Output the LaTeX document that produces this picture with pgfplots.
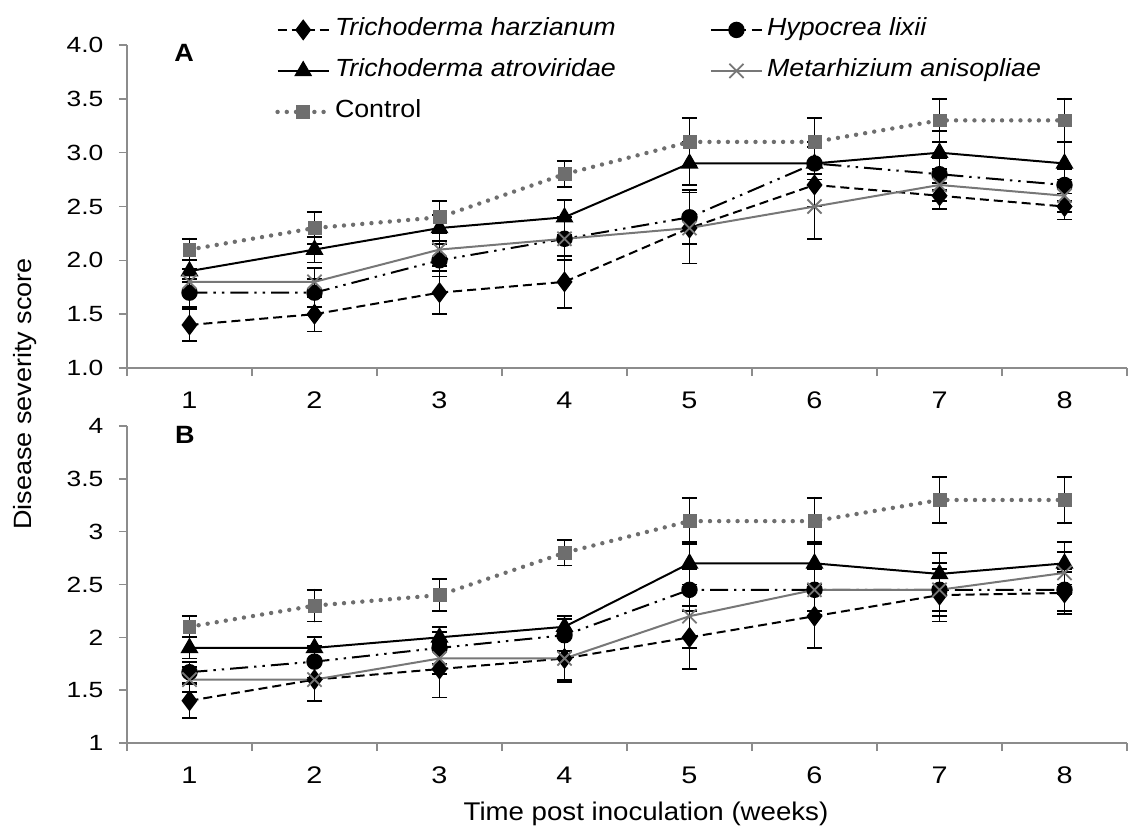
\documentclass[border=0pt]{standalone}
\usepackage{fontspec}
\setmainfont{Liberation Sans}[FakeStretch=1.08]
\newfontfamily\tickfont{Liberation Sans}[FakeStretch=1.2]
\usepackage{pgfplots}
\usepackage{pgfplotstable}
\pgfplotsset{compat=1.18}

\definecolor{axgray}{HTML}{8C8C8C}
\definecolor{ctrlgray}{HTML}{6E6E6E}
\definecolor{metgray}{HTML}{777777}

% x, then value and error for each treatment
\pgfplotstableread{
x h he l le a ae m me c ce
1 1.4 0.15 1.7 0.13 1.9 0.10 1.8 0.12 2.1 0.10
2 1.5 0.16 1.7 0.13 2.1 0.12 1.8 0.13 2.3 0.15
3 1.7 0.20 2.0 0.15 2.3 0.12 2.1 0.15 2.4 0.15
4 1.8 0.24 2.2 0.20 2.4 0.16 2.2 0.20 2.8 0.12
5 2.3 0.33 2.4 0.25 2.9 0.20 2.3 0.33 3.1 0.22
6 2.7 0.20 2.9 0.15 2.9 0.20 2.5 0.30 3.1 0.22
7 2.6 0.12 2.8 0.15 3.0 0.20 2.7 0.15 3.3 0.20
8 2.5 0.12 2.7 0.15 2.9 0.20 2.6 0.15 3.3 0.20
}\dataA

\pgfplotstableread{
x h he l le a ae m me c ce
1 1.40 0.16 1.67 0.10 1.9 0.10 1.60 0.12 2.1 0.10
2 1.60 0.20 1.77 0.15 1.9 0.10 1.60 0.20 2.3 0.15
3 1.70 0.27 1.90 0.15 2.0 0.10 1.80 0.15 2.4 0.15
4 1.80 0.22 2.02 0.15 2.1 0.10 1.80 0.20 2.8 0.12
5 2.00 0.30 2.45 0.20 2.7 0.20 2.20 0.30 3.1 0.22
6 2.20 0.30 2.45 0.20 2.7 0.20 2.45 0.20 3.1 0.22
7 2.40 0.25 2.45 0.20 2.6 0.20 2.45 0.25 3.3 0.22
8 2.42 0.20 2.45 0.20 2.7 0.20 2.61 0.20 3.3 0.22
}\dataB

\pgfplotsset{
  panel/.style={
    scale only axis, width=500pt,
    xmin=0.5, xmax=8.5, ymin=1, ymax=4,
    axis x line*=bottom, axis y line*=left,
    axis line style={axgray, line width=0.8pt},
    tick style={axgray, line width=0.8pt},
    tick align=outside,
    major tick length=0pt, minor tick length=4pt,
    xtick={1,...,8},
    minor xtick={0.5,1.5,2.5,3.5,4.5,5.5,6.5,7.5,8.5},
    ytick={1,1.5,...,4}, minor ytick={1,1.5,...,4},
    /pgf/number format/assume math mode=true,
    xticklabel style={font=\tickfont\fontsize{12}{14}\selectfont, yshift=-8.5pt},
    yticklabel style={font=\tickfont\fontsize{11}{13}\selectfont, xshift=-8.3pt},
    clip=false,
  },
  errs/.style={
    error bars/.cd, y dir=both, y explicit,
    error bar style={black, solid, line width=0.9pt},
    error mark options={rotate=90, mark size=3.8pt, black, solid, line width=0.9pt},
  },
  sH/.style={black, line width=1pt, dash pattern=on 4.5pt off 2.5pt,
    mark=diamond*, mark size=4.5pt, mark options={solid, fill=black}},
  sL/.style={black, line width=1pt, dash pattern=on 9pt off 3pt on 1.2pt off 3pt on 1.2pt off 3pt,
    mark=*, mark size=3.6pt, mark options={solid, fill=black}},
  sA/.style={black, line width=1pt, solid,
    mark=triangle*, mark size=4.2pt, mark options={solid, fill=black}},
  sM/.style={metgray, line width=1pt, solid,
    mark=x, mark size=5pt, mark options={solid, metgray, line width=0.9pt}},
  sC/.style={ctrlgray, line width=2.2pt, line cap=round, dash pattern=on 0pt off 4.6pt,
    mark=square*, mark size=3.2pt, mark options={solid, fill=ctrlgray, draw=ctrlgray, line width=0.4pt}},
}

\begin{document}
\begin{tikzpicture}
\begin{axis}[panel, name=A, height=161.5pt,
  yticklabel style={/pgf/number format/.cd, fixed, fixed zerofill, precision=1},
  legend columns=2,
  legend cell align=left,
  legend image code/.code={\draw[mark repeat=2, mark phase=2] plot coordinates {(0cm,0cm) (0.45cm,0cm) (0.9cm,0cm)};},
  legend style={at={(rel axis cs:0.148,1.1114)}, anchor=north west, draw=none, fill=none,
    inner sep=0pt, font=\fontsize{12.4}{14}\selectfont, row sep=0pt,
    /tikz/every even column/.append style={column sep=45pt},
    nodes={inner ysep=4.25pt, text height=9pt, text depth=3pt}},
]
\addplot[sH, errs] table[x=x, y=h, y error=he] {\dataA};
\addlegendentry{\textit{Trichoderma harzianum}}
\addplot[sL, errs] table[x=x, y=l, y error=le] {\dataA};
\addlegendentry{\textit{Hypocrea lixii}}
\addplot[sA, errs] table[x=x, y=a, y error=ae] {\dataA};
\addlegendentry{\textit{Trichoderma atroviridae}}
\addplot[sM, errs] table[x=x, y=m, y error=me] {\dataA};
\addlegendentry{\textit{Metarhizium anisopliae}}
\addplot[sC, errs] table[x=x, y=c, y error=ce] {\dataA};
\addlegendentry{Control}
\node[font=\fontsize{12.5}{14}\selectfont\bfseries] at (rel axis cs:0.057,0.975) {A};
\end{axis}

\begin{axis}[panel, name=B, height=158.5pt,
  at={(A.south west)}, anchor=north west, yshift=-29pt,
  xlabel={Time post inoculation (weeks)},
  xlabel style={font=\fontsize{12.8}{15}\selectfont, at={(axis description cs:0.519,0)}, anchor=center, yshift=-35.5pt},
]
\addplot[sH, errs] table[x=x, y=h, y error=he] {\dataB};
\addplot[sL, errs] table[x=x, y=l, y error=le] {\dataB};
\addplot[sA, errs] table[x=x, y=a, y error=ae] {\dataB};
\addplot[sM, errs] table[x=x, y=m, y error=me] {\dataB};
\addplot[sC, errs] table[x=x, y=c, y error=ce] {\dataB};
\node[font=\fontsize{12.5}{14}\selectfont\bfseries] at (rel axis cs:0.058,0.972) {B};
\node[rotate=90, font=\fontsize{12.5}{14}\selectfont] at (rel axis cs:-0.102,1.101) {Disease severity score};
\end{axis}

\pgfresetboundingbox
\path[use as bounding box] ([xshift=-63.5pt, yshift=-229.5pt]A.south west) rectangle ([xshift=506.5pt, yshift=184pt]A.south west);
\end{tikzpicture}
\end{document}
